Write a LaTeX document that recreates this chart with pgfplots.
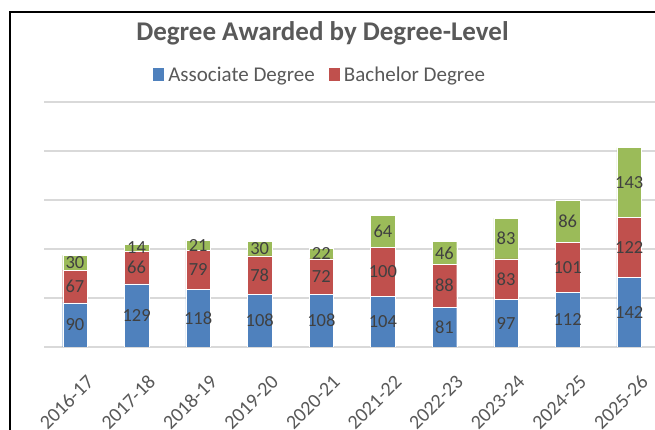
\documentclass[border=0pt]{standalone}
\usepackage{pgfplots}
\pgfplotsset{compat=1.18}
\usepackage{pgfplotstable}
\usepackage{fontspec}
\setmainfont{Carlito}
\definecolor{cblue}{HTML}{4F81BD}
\definecolor{cred}{HTML}{C0504D}
\definecolor{cgreen}{HTML}{9BBB59}
\definecolor{cgrid}{HTML}{D9D9D9}
\definecolor{ctext}{HTML}{595959}
\definecolor{clab}{HTML}{404040}

\pgfplotstableread{
x a b c
0 90 67 30
1 129 66 14
2 118 79 21
3 108 78 30
4 108 72 22
5 104 100 64
6 81 88 46
7 97 83 83
8 112 101 86
9 142 122 143
}\datatable

\pgfplotsset{
  commonaxis/.style={
    at={(44.2pt,83pt)}, anchor=south west, scale only axis,
    width=615.8pt, height=245pt,
    xmin=-0.5, xmax=9.5, ymin=0, ymax=500,
    /pgf/number format/assume math mode=true,
  }
}

\begin{document}
\begin{tikzpicture}[x=1pt,y=1pt]
\path[use as bounding box] (0,0) rectangle (655,430);
\clip (0,0) rectangle (655,430);
\fill[white] (0,0) rectangle (655,430);
\draw[black, line width=1.5pt] (10,-5) -- (10,418) -- (665,418);
\node[anchor=base, text=ctext, font=\fontsize{27}{31}\selectfont\bfseries] at (322.5,389) {Degree Awarded by Degree-Level};

\begin{axis}[commonaxis,
  ybar stacked, bar width=24.5pt,
  axis line style={draw=none},
  tick style={draw=none},
  ytick={0,100,...,500}, yticklabel=\empty,
  ymajorgrids, grid style={cgrid, line width=1.5pt},
  xtick={0,...,9},
  xticklabels={2016-17,2017-18,2018-19,2019-20,2020-21,2021-22,2022-23,2023-24,2024-25,2025-26},
  xticklabel style={xshift=15.4pt, yshift=-31.6pt, rotate=45, anchor=east, inner sep=0pt, font=\fontsize{20}{23}\selectfont, text=ctext},
  legend style={at={(0.4479,1.1102)}, anchor=center, draw=none, fill=none,
    legend columns=2, font=\fontsize{21}{24}\selectfont, text=ctext,
    /tikz/every odd column/.append style={column sep=0pt},
    /tikz/every even column/.append style={column sep=12pt}},
  legend image code/.code={\fill[#1, draw=none] (0pt,-6.5pt) rectangle (10.8pt,6.5pt); \path (13pt,0pt);},
  legend entries={Associate Degree, Bachelor Degree},
]
\addplot[fill=cblue, draw=white, line width=0.4pt] table[x=x,y=a]{\datatable};
\addplot[fill=cred, draw=white, line width=0.4pt] table[x=x,y=b]{\datatable};
\addplot[fill=cgreen, draw=white, line width=0.4pt] table[x=x,y=c]{\datatable};
\end{axis}

\begin{axis}[commonaxis, hide axis, clip=false,
  every node near coord/.append style={anchor=center, font=\fontsize{18.5}{21}\selectfont, text=clab, inner sep=0pt},
]
\addplot[draw=none, mark=none, nodes near coords, point meta=explicit] table[x=x, y expr=\thisrow{a}/2, meta=a]{\datatable};
\addplot[draw=none, mark=none, nodes near coords, point meta=explicit] table[x=x, y expr=\thisrow{a}+\thisrow{b}/2, meta=b]{\datatable};
\addplot[draw=none, mark=none, nodes near coords, point meta=explicit] table[x=x, y expr=\thisrow{a}+\thisrow{b}+\thisrow{c}/2, meta=c]{\datatable};
\end{axis}
\end{tikzpicture}
\end{document}
